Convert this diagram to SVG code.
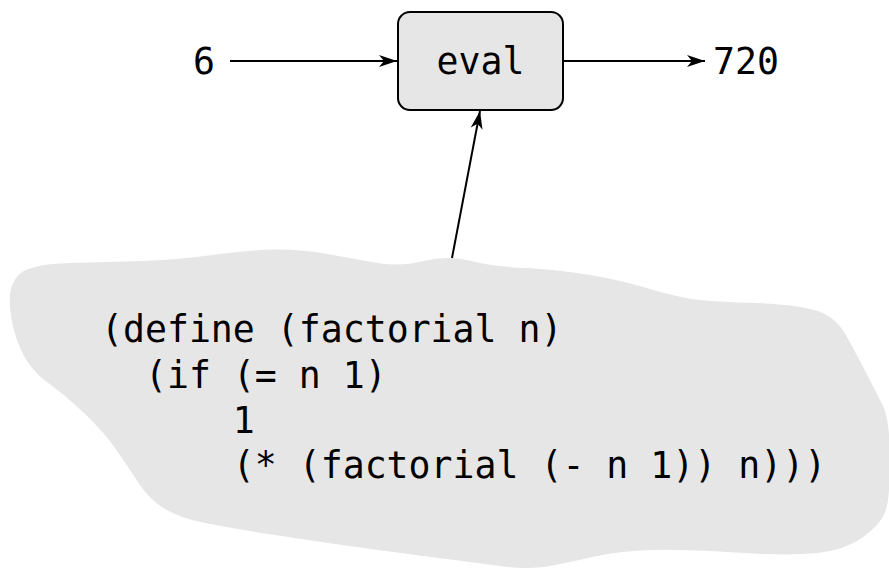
<svg xmlns="http://www.w3.org/2000/svg" width="889" height="568" viewBox="0 0 889 568">
<style>
text{font-family:"DejaVu Sans Mono","Liberation Mono",monospace;font-size:36.5px;fill:#000}
.conn{stroke:#000;stroke-width:2;fill:none}
</style>
<defs>
<marker id="ah" markerUnits="userSpaceOnUse" markerWidth="22" markerHeight="14" refX="19" refY="7" orient="auto">
<path d="M19,7 L1,1 L6,7 L1,13 Z" fill="#000"/>
</marker>
</defs>
<g id="cloud">
<path fill="#e6e6e6" d="M10,307.5 Q8,285 19,274.5 Q30,264 70,263 Q110,262 142.5,261 Q175,260 212.5,255 Q250,250 275,249.5 Q300,249 327.5,254 Q355,259 377.5,263 Q400,267 424,261 Q448,255 471.5,261 Q495,267 527.5,268 Q560,270 590,275 Q620,280 650,289 Q680,298 700,300 Q720,302 755,303 Q790,304 812.5,309.5 Q835,315 846.5,336 Q858,357 866.5,373.5 Q875,390 882.5,405 Q890,420 890,460 Q890,500 885,512.5 Q880,525 862.5,537.5 Q845,550 817.5,553 Q790,556 735,552.5 Q680,549 650,550 Q620,551 595,556.5 Q570,562 550,566 Q530,570 500,566 Q470,562 435,557.5 Q400,553 360,547.5 Q320,542 275,535 Q230,528 205,523 Q180,518 165,509 Q150,500 140,485 Q130,470 117.5,451.5 Q105,433 85,414 Q65,395 47.5,382.5 Q30,370 21,350 Q12,330 10,307.5 Z"/>
<text x="101" y="342">(define (factorial n)</text>
<text x="145" y="388">(if (= n 1)</text>
<text x="232.8" y="433">1</text>
<text x="232.8" y="478">(* (factorial (- n 1)) n)))</text>
</g>
<g id="eval">
<rect x="398" y="12" width="165" height="98" rx="12" ry="12" fill="#e6e6e6" stroke="#000" stroke-width="2"/>
<text x="480.5" y="74" text-anchor="middle">eval</text>
</g>
<g id="input"><text x="193" y="74">6</text></g>
<g id="output"><text x="713" y="74">720</text></g>
<g id="connectors">
<line class="conn" x1="230" y1="61" x2="397" y2="61" marker-end="url(#ah)"/>
<line class="conn" x1="564" y1="61" x2="705" y2="61" marker-end="url(#ah)"/>
<line class="conn" x1="452" y1="258" x2="480" y2="111" marker-end="url(#ah)"/>
</g>
</svg>
